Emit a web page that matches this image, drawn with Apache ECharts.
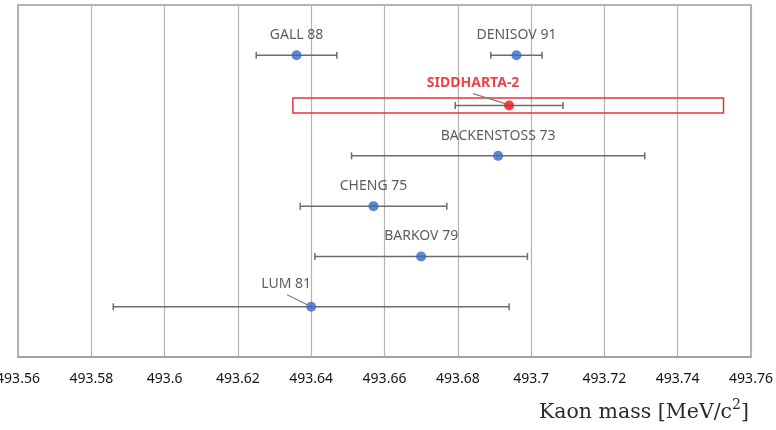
<!DOCTYPE html>
<html>
<head>
<meta charset="utf-8">
<script src="https://cdn.jsdelivr.net/npm/echarts@6/dist/echarts.min.js"></script>
<style>
  html, body { margin: 0; padding: 0; background: #fff; }
  #chart { width: 776px; height: 430px; }
</style>
</head>
<body>
<div id="chart"></div>
<script>
// Charged kaon mass measurements (MeV/c^2) with their uncertainties
const experiments = ['GALL 88', 'DENISOV 91', 'SIDDHARTA-2', 'BACKENSTOSS 73', 'CHENG 75', 'BARKOV 79', 'LUM 81'];
const masses      = [493.636, 493.696, 493.694, 493.691, 493.657, 493.670, 493.640];
const errors      = [0.011, 0.007, 0.0147, 0.040, 0.020, 0.029, 0.054];
const rows        = [6, 6, 5, 4, 3, 2, 1];
const highlighted = 'SIDDHARTA-2';
const highlightSpan = [493.635, 493.7525];
const tickValues  = [493.56, 493.58, 493.6, 493.62, 493.64, 493.66, 493.68, 493.7, 493.72, 493.74, 493.76];

// label placement tweaks (pixel offsets) and leader lines for crowded points
const labelLayout = {
  'SIDDHARTA-2': { offset: [-36, -3], leader: [[-36, -12], [-4, -2]] },
  'LUM 81':      { offset: [-25, -3], leader: [[-24, -12], [-4, -2]] }
};

const BLUE = '#3a68c4';
const RED = '#e8131c';
const BAR = '#6c6c6c';

const chart = echarts.init(document.getElementById('chart'), null, { renderer: 'canvas' });

const barData = experiments.map((n, i) => [masses[i], rows[i], errors[i], n]);

const pointData = experiments.map((n, i) => {
  const isHi = n === highlighted;
  const lay = labelLayout[n];
  return {
    name: n,
    value: [masses[i], rows[i]],
    itemStyle: { color: isHi ? RED : BLUE },
    label: {
      color: isHi ? RED : '#333333',
      fontWeight: isHi ? 'bold' : 'normal',
      offset: lay ? lay.offset : [0, 0]
    }
  };
});

const leaderData = experiments
  .map((n, i) => [masses[i], rows[i], n])
  .filter(d => labelLayout[d[2]]);

const option = {
  animation: false,
  backgroundColor: '#ffffff',
  grid: {
    left: 18, right: 25, top: 5, bottom: 73,
    outerBoundsMode: 'none',
    containLabel: false,
    show: true,
    borderColor: '#9c9c9c',
    borderWidth: 1.5,
    backgroundColor: 'transparent'
  },
  xAxis: {
    type: 'value',
    min: tickValues[0],
    max: tickValues[tickValues.length - 1],
    interval: 0.02,
    axisLine: { show: true, lineStyle: { color: '#9c9c9c', width: 1.5 } },
    axisTick: { show: false },
    splitLine: { show: true, lineStyle: { color: '#b4b4b4', width: 1.2 } },
    axisLabel: {
      margin: 15,
      fontFamily: 'Noto Sans',
      fontSize: 14,
      color: '#141414',
      showMinLabel: true,
      showMaxLabel: true,
      hideOverlap: false,
      formatter: v => String(+v.toFixed(2))
    }
  },
  yAxis: {
    type: 'value',
    min: 0, max: 7,
    show: false,
    splitLine: { show: false }
  },
  graphic: [{
    type: 'text',
    right: 27,
    top: 398,
    style: {
      text: '{t|Kaon mass [MeV/c}{s|2}{t|]}',
      rich: {
        t: { fontFamily: 'DejaVu Serif', fontSize: 20.5, fill: '#2a2a2a', verticalAlign: 'bottom', lineHeight: 25 },
        s: { fontFamily: 'DejaVu Serif', fontSize: 14, fill: '#2a2a2a', verticalAlign: 'top', lineHeight: 25, padding: [0, 0, 9, 0] }
      }
    }
  }],
  series: [
    {
      // horizontal error bars with end caps
      type: 'custom',
      z: 2,
      data: barData,
      renderItem: (params, api) => {
        const x = api.value(0), y = api.value(1), e = api.value(2);
        const p1 = api.coord([x - e, y]);
        const p2 = api.coord([x + e, y]);
        const cap = 3.5;
        const st = { stroke: BAR, lineWidth: 1.5 };
        return {
          type: 'group',
          children: [
            { type: 'line', shape: { x1: p1[0], y1: p1[1], x2: p2[0], y2: p2[1] }, style: st },
            { type: 'line', shape: { x1: p1[0], y1: p1[1] - cap, x2: p1[0], y2: p1[1] + cap }, style: st },
            { type: 'line', shape: { x1: p2[0], y1: p2[1] - cap, x2: p2[0], y2: p2[1] + cap }, style: st }
          ]
        };
      },
      markArea: {
        silent: true,
        itemStyle: { color: 'rgba(0,0,0,0)', borderColor: '#e6343c', borderWidth: 1.5 },
        data: [[
          { xAxis: highlightSpan[0], yAxis: rows[experiments.indexOf(highlighted)] - 0.15 },
          { xAxis: highlightSpan[1], yAxis: rows[experiments.indexOf(highlighted)] + 0.15 }
        ]]
      }
    },
    {
      // leader lines from offset labels to their points
      type: 'custom',
      z: 3,
      data: leaderData,
      renderItem: (params, api) => {
        const name = leaderData[params.dataIndex][2];
        const p = api.coord([api.value(0), api.value(1)]);
        const l = labelLayout[name].leader;
        return {
          type: 'line',
          shape: { x1: p[0] + l[0][0], y1: p[1] + l[0][1], x2: p[0] + l[1][0], y2: p[1] + l[1][1] },
          style: { stroke: '#808080', lineWidth: 1.2 }
        };
      }
    },
    {
      type: 'scatter',
      z: 4,
      symbolSize: 10,
      data: pointData,
      label: {
        show: true,
        position: 'top',
        distance: 8,
        fontFamily: 'Noto Sans',
        fontSize: 14,
        formatter: p => p.name
      }
    }
  ]
};

chart.setOption(option);
</script>
</body>
</html>
